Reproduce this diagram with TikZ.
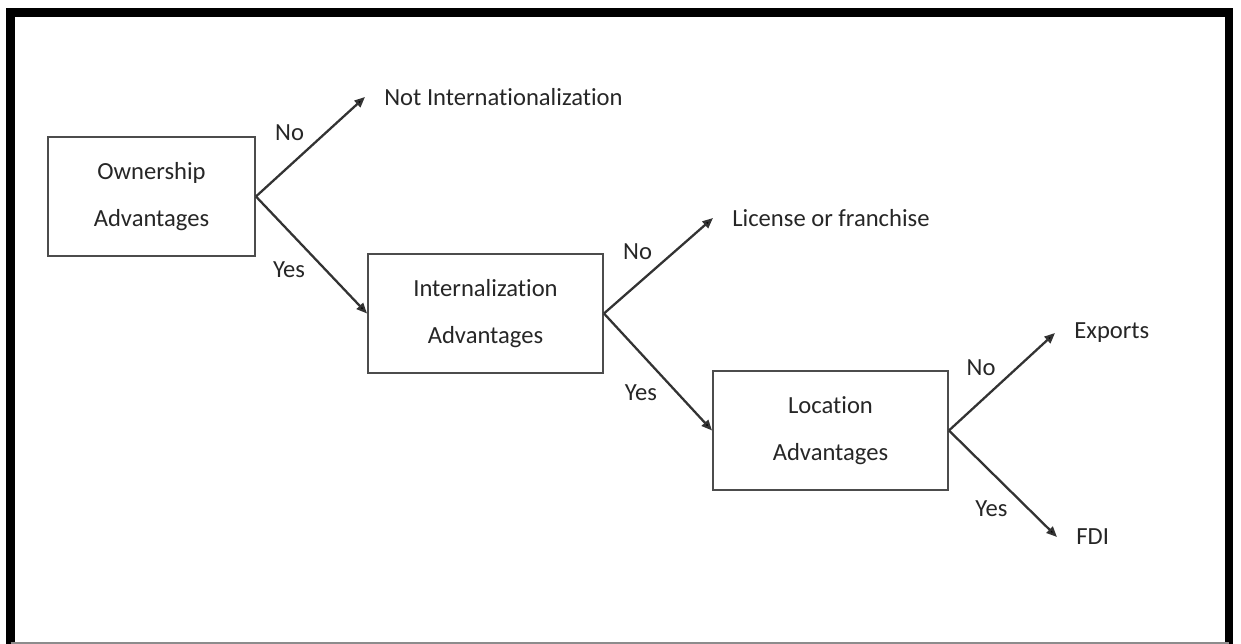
\documentclass[tikz,border=0pt]{standalone}
\usepackage{fontspec}
\setmainfont{Carlito}[Ligatures={NoCommon}]
\usetikzlibrary{arrows.meta, positioning}

\tikzset{
  adv/.style={draw=black!70, line width=1.1pt, align=center, minimum height=2.38cm,
    font=\fontsize{14}{27}\selectfont, text=black!85},
  outcome/.style={anchor=west, inner xsep=0.38cm, text=black!85},
  choice/.style={text=black!85, inner sep=3pt},
  conn/.style={->, draw=black!80, line width=1.3pt},
}

\begin{document}
\begin{tikzpicture}[>={Triangle[length=6pt,width=5pt,fill=black]}, font=\fontsize{14}{17}\selectfont]
    \useasboundingbox (0,0) rectangle (24.82,12.88);
    % frame
    \draw[line width=5.1pt] (0.21,0) -- (0.21,12.63) -- (24.58,12.63) -- (24.58,0);
    \draw[black!45, line width=0.6pt] (0.21,0.02) -- (24.58,0.02);

    \node[adv, minimum width=4.14cm] at (3.03,8.95) (own) {Ownership\\Advantages};
    \node[adv, minimum width=4.70cm] at (9.71,6.61) (intl) {Internalization\\Advantages};
    \node[adv, minimum width=4.70cm] at (16.61,4.27) (loc) {Location\\Advantages};

    \node[outcome] at (7.30,10.94) (notint) {Not Internationalization};
    \node[outcome] at (14.26,8.52) (lic) {License or franchise};
    \node[outcome] at (21.10,6.22) (exp) {Exports};
    \node[outcome] at (21.14,2.14) (fdi) {FDI};

    \draw[conn] (own.east) -- node[choice, midway, above left] (no1) {No} (notint.west);
    \draw[conn] (own.east) -- node[choice, midway, below left] (yes1) {Yes} (intl.west);
    \draw[conn] (intl.east) -- node[choice, midway, above left] (no2) {No} (lic.west);
    \draw[conn] (intl.east) -- node[choice, pos=0.55, below left] (yes2) {Yes} (loc.west);
    \draw[conn] (loc.east) -- node[choice, midway, above left] (no3) {No} (exp.west);
    \draw[conn] (loc.east) -- node[choice, pos=0.6, below left] (yes3) {Yes} (fdi.west);
\end{tikzpicture}
\end{document}
